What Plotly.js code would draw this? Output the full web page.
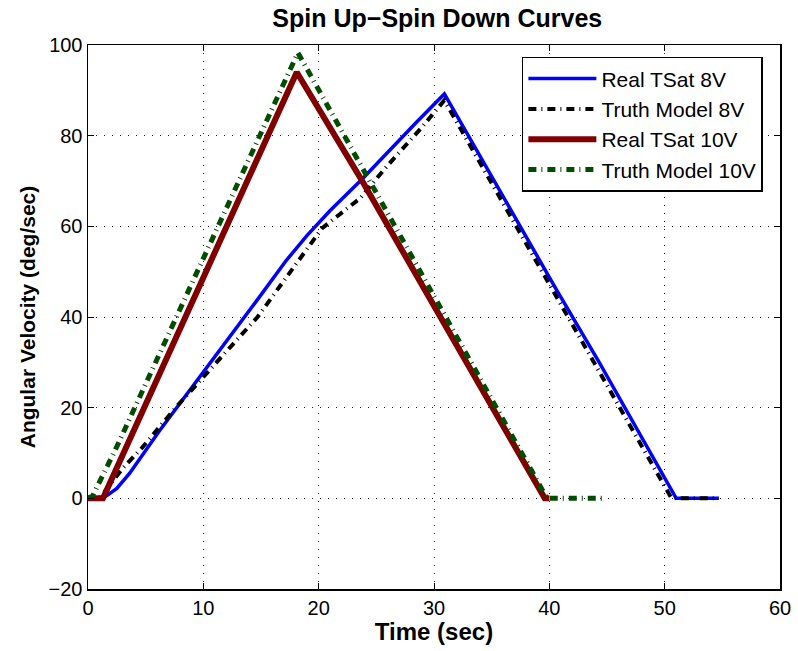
<!DOCTYPE html>
<html>
<head>
<meta charset="utf-8">
<script src="https://cdn.plot.ly/plotly-3.0.1.min.js"></script>
<style>html,body{margin:0;padding:0;background:#fff;}#chart{width:798px;height:651px;}</style>
</head>
<body>
<div id="chart"></div>
<script>
// Real TSat 8V
const tReal8 = [0, 1.3, 2.5, 3.6, 6.2, 10, 14.6, 17.2, 19.0, 21.0, 23.8, 28.5, 30.9, 40.6, 44.3, 51.0, 54.7];
const vReal8 = [0, 0, 2.2, 5.5, 14.9, 27.7, 43.5, 52.5, 58.0, 63.5, 70.5, 83, 89.2, 46.1, 30.1, 0, 0];
// Truth Model 8V
const tTruth8 = [0, 1.0, 3.0, 4.7, 7.6, 14.7, 20.3, 23.6, 25.9, 29.0, 30.9, 50.6, 54.7];
const vTruth8 = [0, 0, 6.6, 11.2, 20, 40, 59.6, 66.2, 73.2, 82, 87.8, 0, 0];
// Real TSat 10V
const tReal10 = [0, 1.3, 4.8, 8.1, 18.1, 23.8, 39.6, 40.0];
const vReal10 = [0, 0, 19.6, 38, 94, 69.9, 0, 0];
// Truth Model 10V
const tTruth10 = [0, 0.4, 2.5, 18.2, 22.4, 39.8, 44.8];
const vTruth10 = [0, 0.5, 11.4, 98.3, 79.2, 0, 0];

const names = ['Real TSat 8V', 'Truth Model 8V', 'Real TSat 10V', 'Truth Model 10V'];
const xTicks = [0, 10, 20, 30, 40, 50, 60];
const yTicks = [-20, 0, 20, 40, 60, 80, 100];

const dd = '8px,5px,1px,5px';
const traces = [
  {x: tReal8, y: vReal8, name: names[0], line: {color: '#0000ff', width: 3.5}},
  {x: tTruth8, y: vTruth8, name: names[1], line: {color: '#000000', width: 4, dash: dd}},
  {x: tReal10, y: vReal10, name: names[2], line: {color: '#800000', width: 6}},
  {x: tTruth10, y: vTruth10, name: names[3], line: {color: '#004d00', width: 5, dash: dd}}
].map(t => Object.assign({type: 'scatter', mode: 'lines'}, t));

const fam = 'Liberation Sans, Arial, sans-serif';
const axisCommon = {
  showline: true, linecolor: '#000', linewidth: 1.5, mirror: 'ticks',
  ticks: 'inside', ticklen: 6, tickcolor: '#000', tickwidth: 1,
  showgrid: true, gridcolor: '#222', gridwidth: 1, griddash: '1px,7px',
  zeroline: false, tickfont: {family: fam, size: 20, color: '#000'}
};

const layout = {
  width: 798, height: 651,
  margin: {l: 88, r: 18, t: 45, b: 62},
  paper_bgcolor: '#fff', plot_bgcolor: '#fff',
  title: {text: 'Spin Up\u2212Spin Down Curves', font: {family: fam, size: 25, color: '#000', weight: 'bold'}, x: 0.548, xanchor: 'center', y: 0.972, yanchor: 'middle'},
  xaxis: Object.assign({}, axisCommon, {range: [0, 60], tickvals: xTicks, title: {text: 'Time (sec)', font: {family: fam, size: 24, color: '#000', weight: 'bold'}, standoff: 4}}),
  yaxis: Object.assign({}, axisCommon, {range: [-20, 100], tickvals: yTicks, title: {text: 'Angular Velocity (deg/sec)', font: {family: fam, size: 21, color: '#000', weight: 'bold'}, standoff: 7}}),
  showlegend: true,
  legend: {x: 0.627, y: 0.978, xanchor: 'left', yanchor: 'top', bgcolor: '#fff', bordercolor: '#000', borderwidth: 1.5,
    font: {family: fam, size: 21, color: '#000'}, itemwidth: 68}
};

Plotly.newPlot('chart', traces, layout, {displayModeBar: false, staticPlot: true});
</script>
</body>
</html>
